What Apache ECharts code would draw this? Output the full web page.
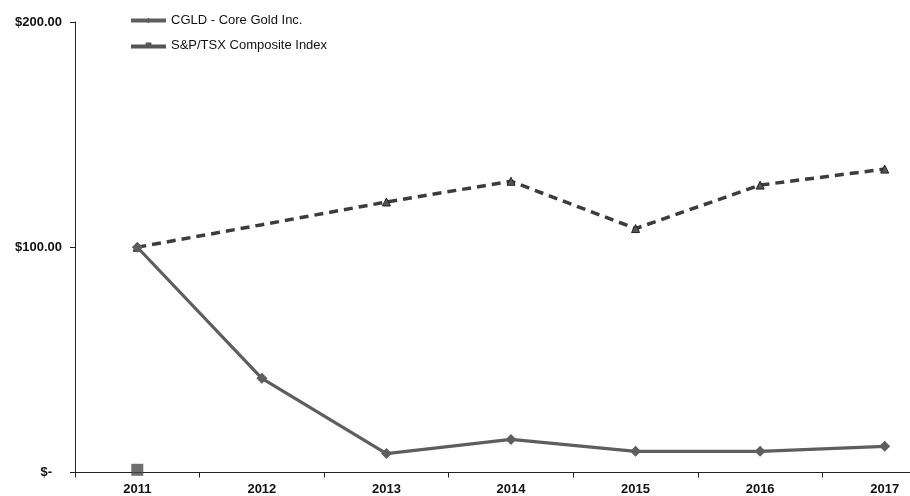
<!DOCTYPE html>
<html>
<head>
<meta charset="utf-8">
<script src="https://cdn.jsdelivr.net/npm/echarts@6/dist/echarts.min.js"></script>
<style>html,body{margin:0;padding:0;background:#fff;overflow:hidden;width:910px;height:496px}#c{width:947px;height:496px}</style>
</head>
<body>
<div id="c"></div>
<script>
var years = ['2011', '2012', '2013', '2014', '2015', '2016', '2017'];
var cgld = [100, 41.8, 8.4, 14.7, 9.4, 9.4, 11.6];
var tsx = [100, 110, 120.1, 129.3, 108.3, 127.6, 134.7];
var stray = [1.2, null, null, null, null, null, null];

var tsxData = tsx.map(function (v, i) {
  return i === 1 ? { value: v, symbolSize: 0 } : v;
});

var chart = echarts.init(document.getElementById('c'));
chart.setOption({
  animation: false,
  backgroundColor: '#ffffff',
  grid: { left: 75, right: 0, top: 22, bottom: 23.5, containLabel: false },
  legend: {
    orient: 'vertical', left: 129, top: 14, itemGap: 12, padding: 0,
    itemWidth: 35, itemHeight: 7,
    textStyle: { fontFamily: 'Liberation Sans', fontSize: 13, color: '#111' },
    data: [
      { name: 'CGLD - Core Gold Inc.', lineStyle: { width: 4 } },
      { name: 'S&P/TSX Composite Index', icon: 'path://M0,3 L15,3 L15,1 L21,1 L21,3 L36,3 L36,7 L0,7 Z', itemStyle: { color: '#555', borderWidth: 0 } }
    ]
  },
  xAxis: {
    type: 'category', data: years, boundaryGap: true,
    axisLine: { lineStyle: { color: '#222', width: 1 } },
    axisTick: { show: true, length: 5, lineStyle: { color: '#222' } },
    axisLabel: { fontFamily: 'Liberation Sans', fontWeight: 'bold', fontSize: 13, color: '#111', margin: 10 }
  },
  yAxis: {
    type: 'value', min: 0, max: 200, interval: 100,
    splitLine: { show: false },
    axisLine: { show: true, lineStyle: { color: '#222', width: 1 } },
    axisTick: { show: true, length: 5, lineStyle: { color: '#222' } },
    axisLabel: {
      fontFamily: 'Liberation Sans', fontWeight: 'bold', fontSize: 13, color: '#111', margin: 13,
      formatter: function (v) { return v === 0 ? '{z|$-}' : '$' + v.toFixed(2); },
      rich: { z: { fontFamily: 'Liberation Sans', fontWeight: 'bold', fontSize: 13, color: '#111', padding: [0, 10, 0, 0] } }
    }
  },
  series: [
    {
      name: 'S&P/TSX Composite Index', type: 'line', data: tsxData, z: 3,
      lineStyle: { color: '#3c3c3c', width: 3.5, type: [9, 6] },
      itemStyle: { color: '#555', borderColor: '#222', borderWidth: 1 },
      symbol: 'triangle', symbolSize: 8, showAllSymbol: true,
      emphasis: { disabled: true }
    },
    {
      name: 'CGLD - Core Gold Inc.', type: 'line', data: cgld, z: 4,
      lineStyle: { color: '#5e5e5e', width: 3.2 },
      itemStyle: { color: '#5e5e5e' },
      symbol: 'diamond', symbolSize: 11,
      emphasis: { disabled: true }
    },
    {
      name: 'marker', type: 'scatter', data: stray, z: 5,
      symbol: 'rect', symbolSize: 12,
      itemStyle: { color: '#4a4a4a' },
      emphasis: { disabled: true }
    }
  ]
});
</script>
</body>
</html>
